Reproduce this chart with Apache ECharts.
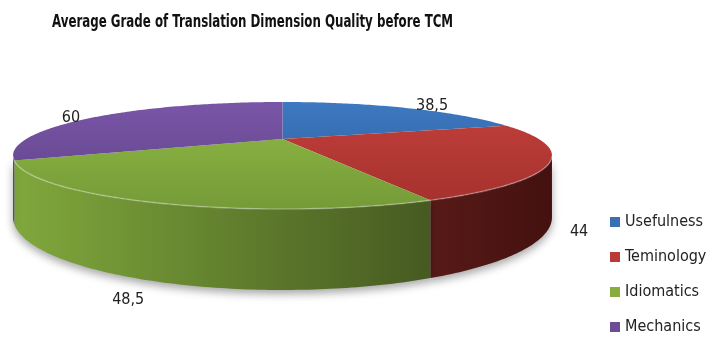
<!DOCTYPE html>
<html>
<head>
<meta charset="utf-8">
<script src="https://cdn.jsdelivr.net/npm/echarts@6/dist/echarts.min.js"></script>
<style>html,body{margin:0;padding:0;background:#fff}#c{width:711px;height:337px}</style>
</head>
<body>
<div id="c"></div>
<script>
// ---- data ----
const titleText = 'Average Grade of Translation Dimension Quality before TCM';
const categories = ['Usefulness', 'Teminology', 'Idiomatics', 'Mechanics'];
const values = [38.5, 44, 48.5, 60];
const valueLabels = ['38,5', '44', '48,5', '60'];

// ---- styles ----
const legendColors = ['#3a6fb4', '#b93a36', '#86ad3e', '#6c4b97'];
const topColors = [['#3e79c2', '#2b5a96'], ['#c4403c', '#a2302c'], ['#91ba44', '#749a38'], ['#7a56a7', '#5d4187']];
const wallColors = [['#2a5286', '#1f3f68'], ['#581a17', '#43110f'], ['#80a83c', '#465a21'], ['#5e4189', '#4e3575']];
const FONT = "'DejaVu Sans Condensed', 'Noto Sans', sans-serif";

// perspective model of the disc (pixel space)
const P = { cx: 282.5, f: 831, D: 3.242, h0: -18, kTop: 509, kBot: 690.5 };
function proj(phi, bottom, r) {
  if (r === undefined) r = 1;
  const c = Math.cos(phi) * r, s = Math.sin(phi) * r;
  const den = P.D + s;
  return [P.cx + P.f * c / den, P.h0 + (bottom ? P.kBot : P.kTop) / den];
}
function arc(from, to, bottom) {
  const n = Math.max(2, Math.ceil(Math.abs(to - from) / 0.015));
  const pts = [];
  for (let k = 0; k <= n; k++) pts.push(proj(from + (to - from) * k / n, bottom));
  return pts;
}
const total = values.reduce((a, b) => a + b, 0);

function renderSlice(params, api) {
  const i = params.seriesIndex;
  let cum = 0;
  for (let k = 0; k < i; k++) cum += values[k];
  const v = api.value(0);
  const a0 = Math.PI / 2 - 2 * Math.PI * cum / total;
  const a1 = a0 - 2 * Math.PI * v / total;
  const children = [];
  const vis0 = -Math.asin(1 / P.D), vis1 = -Math.PI + Math.asin(1 / P.D);
  const ws = Math.min(a0, vis0), we = Math.max(a1, vis1);
  if (ws > we) {
    const topPts = arc(ws, we, false);
    const botPts = arc(we, ws, true);
    children.push({
      type: 'polygon', z2: 1,
      shape: { points: topPts.concat(botPts) },
      style: {
        fill: new echarts.graphic.LinearGradient(0, 0, 1, 0, [
          { offset: 0, color: wallColors[i][0] }, { offset: 1, color: wallColors[i][1] }]),
        shadowBlur: 8, shadowColor: 'rgba(0,0,0,0.35)', shadowOffsetY: 4
      }
    });
    children.push({
      type: 'polyline', z2: 6,
      shape: { points: topPts },
      style: { stroke: 'rgba(255,255,255,0.28)', lineWidth: 1.6, fill: null }
    });
  }
  const pts = [proj(0, false, 0)].concat(arc(a0, a1, false));
  children.push({
    type: 'polygon', z2: 5,
    shape: { points: pts },
    style: {
      fill: new echarts.graphic.LinearGradient(0, 100, 0, 212, [
        { offset: 0, color: topColors[i][0] }, { offset: 1, color: topColors[i][1] }], true)
    }
  });
  // label, placed outside the slice's outer edge
  const m = (a0 + a1) / 2;
  const back = Math.sin(m) > 0;
  const edge = proj(m, !back);
  const ctr = proj(0, !back, 0);
  const dx = edge[0] - ctr[0], dy = edge[1] - ctr[1];
  const len = Math.sqrt(dx * dx + dy * dy);
  children.push({
    type: 'text', z2: 10,
    x: edge[0] + dx / len * 29, y: edge[1] + dy / len * 29 + (back ? 5 : 3),
    style: {
      text: valueLabels[i], fill: '#222', font: '16px ' + FONT,
      align: 'center', verticalAlign: 'middle'
    }
  });
  return { type: 'group', children };
}

const chart = echarts.init(document.getElementById('c'), null, { renderer: 'canvas' });
chart.setOption({
  animation: false,
  backgroundColor: '#fff',
  graphic: [{
    type: 'text', left: 52, top: 13, scaleX: 0.73,
    style: { text: titleText, font: 'bold 18px ' + FONT, fill: '#111' }
  }],
  legend: {
    data: categories, orient: 'vertical', left: 610, top: 214, padding: 0,
    icon: 'rect', itemWidth: 10, itemHeight: 10, itemGap: 19,
    textStyle: { fontFamily: FONT, fontSize: 16, lineHeight: 16, color: '#222' }
  },
  series: categories.map((name, i) => ({
    type: 'custom', name: name, coordinateSystem: 'none',
    itemStyle: { color: legendColors[i] },
    renderItem: renderSlice,
    data: [[values[i]]]
  }))
});
</script>
</body>
</html>
